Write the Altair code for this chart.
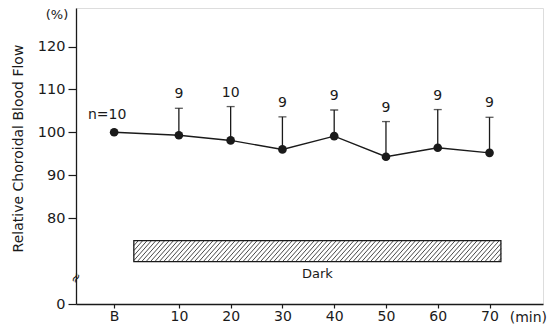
import altair as alt
import pandas as pd
import numpy as np

# ---- data ----
time_labels = ["B", "10", "20", "30", "40", "50", "60", "70"]
times = [-2.5, 10, 20, 30, 40, 50, 60, 70]          # B drawn just before 0
means = [100.0, 99.3, 98.1, 96.0, 99.1, 94.3, 96.4, 95.2]
sd_tops = [None, 105.6, 106.0, 103.6, 105.2, 102.5, 105.3, 103.5]
n_labels = ["n=10", "9", "10", "9", "9", "9", "9", "9"]

dark_start, dark_end = 1.3, 72.2
dark_low, dark_high = 69.8, 74.7
y_ticks = [0, 80, 90, 100, 110, 120]

FONT = "DejaVu Sans"
INK = "#1a1a1a"
W, H = 467, 296

xscale = alt.Scale(domain=[-9.87, 80.33], nice=False, zero=False)
yscale = alt.Scale(domain=[0, 66, 129], range=[H, 270, 0], nice=False, zero=False)

df = pd.DataFrame({"t": times, "m": means, "top": sd_tops, "n": n_labels})
err = df.dropna(subset=["top"])

x_enc = alt.X("t:Q", scale=xscale, axis=alt.Axis(
    values=times, labelExpr="datum.value < 0 ? 'B' : datum.label",
    grid=False, domainColor=INK, domainWidth=1.3, tickColor=INK, tickSize=4,
    tickWidth=1.2, labelFont=FONT, labelFontSize=14, labelColor=INK,
    labelPadding=1, title=None))
y_enc = alt.Y("m:Q", scale=yscale, axis=alt.Axis(
    values=y_ticks, grid=False, domainColor=INK, domainWidth=1.3, tickColor=INK,
    tickSize=8, tickWidth=1.2, labelFont=FONT, labelFontSize=14.5,
    labelColor=INK, labelPadding=3, title="Relative Choroidal Blood Flow",
    titleFont=FONT, titleFontSize=14, titleFontWeight="normal", titleColor=INK,
    titleAngle=270, titleX=-58, titleY=140, titleAlign="center",
    titleBaseline="middle"))

base = alt.Chart(df)
line = base.mark_line(color=INK, strokeWidth=1.4).encode(x=x_enc, y=y_enc)
pts = base.mark_point(filled=True, color=INK, size=75, opacity=1).encode(
    x=alt.X("t:Q", scale=xscale), y=alt.Y("m:Q", scale=yscale))

ebase = alt.Chart(err)
bars = ebase.mark_rule(color=INK, strokeWidth=1.3).encode(
    x=alt.X("t:Q", scale=xscale), y=alt.Y("m:Q", scale=yscale), y2="top:Q")
caps = ebase.mark_tick(color=INK, orient="horizontal", size=8, thickness=1.3).encode(
    x=alt.X("t:Q", scale=xscale), y=alt.Y("top:Q", scale=yscale))
nlab = ebase.mark_text(font=FONT, fontSize=14, color=INK, dy=-14).encode(
    x=alt.X("t:Q", scale=xscale), y=alt.Y("top:Q", scale=yscale), text="n:N")
n0 = alt.Chart(df.iloc[[0]]).mark_text(font=FONT, fontSize=14, color=INK,
                                       dy=-17, dx=-7).encode(
    x=alt.X("t:Q", scale=xscale), y=alt.Y("m:Q", scale=yscale), text="n:N")

# dark period bar with diagonal hatching
dark_df = pd.DataFrame({"x0": [dark_start], "x1": [dark_end],
                        "y0": [dark_low], "y1": [dark_high], "lab": ["Dark"]})
dark_box = alt.Chart(dark_df).mark_rect(fill="white", stroke=INK, strokeWidth=1.3).encode(
    x=alt.X("x0:Q", scale=xscale), x2="x1:Q",
    y=alt.Y("y0:Q", scale=yscale), y2="y1:Q")

dx, step = 3.6, 0.85
rows = []
for s in np.arange(dark_start - dx, dark_end, step):
    t0 = max(0.0, (dark_start - s) / dx)
    t1 = min(1.0, (dark_end - s) / dx)
    if t1 <= t0:
        continue
    rows.append({"ha": s + dx * t0, "hb": s + dx * t1,
                 "va": dark_low + (dark_high - dark_low) * t0,
                 "vb": dark_low + (dark_high - dark_low) * t1})
hatch = alt.Chart(pd.DataFrame(rows)).mark_rule(color=INK, strokeWidth=0.8).encode(
    x=alt.X("ha:Q", scale=xscale), x2="hb:Q",
    y=alt.Y("va:Q", scale=yscale), y2="vb:Q")
dark_lab = alt.Chart(dark_df).mark_text(font=FONT, fontSize=13, color=INK,
                                        baseline="top", dy=6).encode(
    x=alt.X("mid:Q", scale=xscale), y=alt.Y("y0:Q", scale=yscale), text="lab:N"
).transform_calculate(mid="(datum.x0 + datum.x1) / 2")

# annotations: units and axis break
ann = pd.DataFrame({"t": [80.33], "lab": ["(min)"]})
min_lab = alt.Chart(ann).mark_text(font=FONT, fontSize=14, color=INK, align="right",
                                   baseline="middle", dx=4).encode(
    x=alt.X("t:Q", scale=xscale), y=alt.value(H + 14), text="lab:N")
pct = alt.Chart(pd.DataFrame({"lab": ["(%)"]})).mark_text(
    font=FONT, fontSize=13, color=INK, baseline="middle").encode(
    x=alt.value(-19), y=alt.value(7), text="lab:N")
brk = alt.Chart(pd.DataFrame({"t": [-9.87], "v": [66], "lab": ["≈"]})).mark_text(
    font=FONT, fontSize=13, color=INK, angle=300, baseline="middle").encode(
    x=alt.X("t:Q", scale=xscale), y=alt.Y("v:Q", scale=yscale), text="lab:N")

chart = alt.layer(dark_box, hatch, dark_lab, bars, caps, line, pts, nlab, n0,
                  min_lab, pct, brk).properties(
    width=W, height=H,
    autosize=alt.AutoSizeParams(type="none"),
    padding={"left": 68, "top": 0, "right": 5, "bottom": 21},
).configure_view(stroke=None).configure(background="white")

chart.save("out.html", embed_options={"renderer": "svg", "actions": False})
